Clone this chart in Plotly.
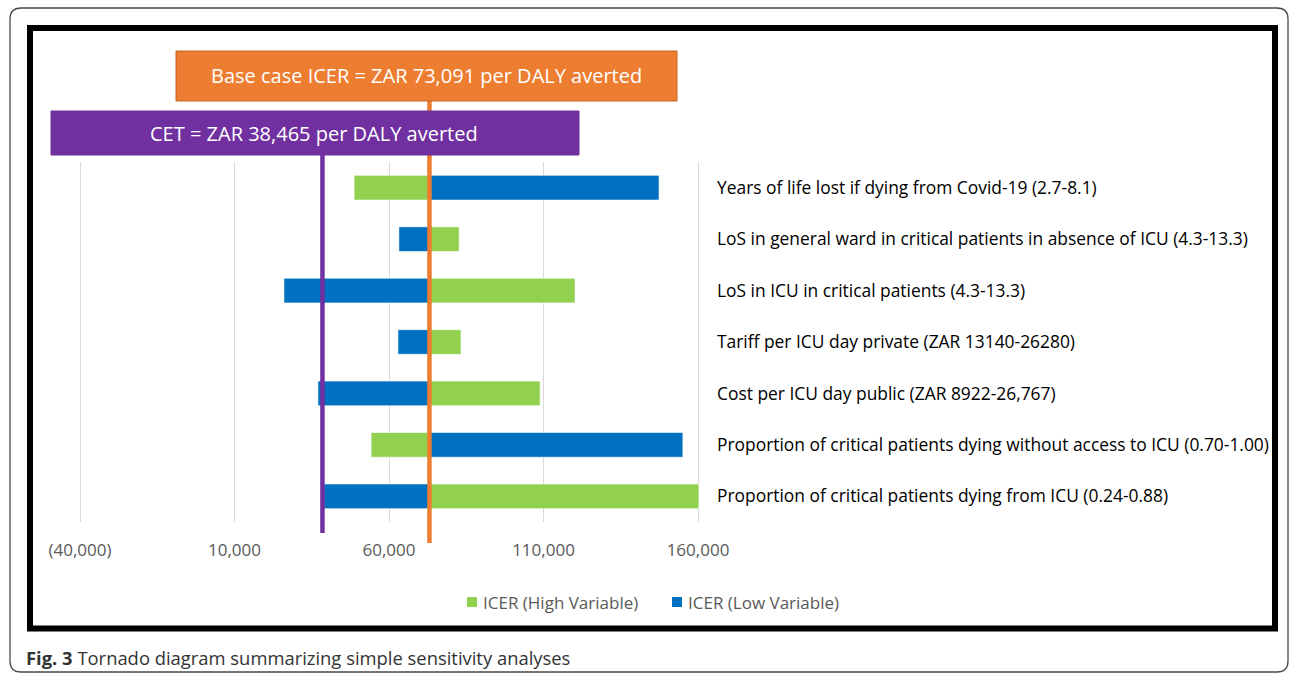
import plotly.graph_objects as go

# ---------------- data ----------------
categories = [
    "Years of life lost if dying from Covid-19 (2.7-8.1)",
    "LoS in general ward in critical patients in absence of ICU (4.3-13.3)",
    "LoS in ICU in critical patients (4.3-13.3)",
    "Tariff per ICU day private (ZAR 13140-26280)",
    "Cost per ICU day public (ZAR 8922-26,767)",
    "Proportion of critical patients dying without access to ICU (0.70-1.00)",
    "Proportion of critical patients dying from ICU (0.24-0.88)",
]
icer_high_variable = [48700, 82700, 120200, 83300, 108900, 54200, 160300]
icer_low_variable = [147400, 63200, 26000, 62900, 37000, 155100, 38900]
base_case_icer = 73091
cet = 38465
tick_values = [-40000, 10000, 60000, 110000, 160000]
tick_labels = ["(40,000)", "10,000", "60,000", "110,000", "160,000"]
series_names = ["ICER (High Variable)", "ICER (Low Variable)"]

# ---------------- geometry helpers ----------------
W, H = 1292, 674
PL, PR, PT, PB = 76, 702, 162, 522
XMIN, XMAX = -41294, 161294


def px(x):
    return (x - PL) / (PR - PL)


def py(y):
    return (PB - y) / (PB - PT)


GREEN = "#92D050"
BLUE = "#0070C0"
ORANGE = "#ED7D31"
PURPLE = "#7030A0"
FONT = "Open Sans"

fig = go.Figure()
for name, vals, col in [(series_names[0], icer_high_variable, GREEN),
                        (series_names[1], icer_low_variable, BLUE)]:
    fig.add_trace(go.Bar(
        name=name, orientation="h", y=categories,
        x=[v - base_case_icer for v in vals], base=base_case_icer,
        marker=dict(color=col, line=dict(color="rgba(255,255,255,0.6)", width=1)),
        width=0.48, showlegend=False,
    ))

shapes = []
# outer rounded border
r = 11
x0, x1, y0, y1 = 10, 1288, 8, 672
path = (f"M {px(x0)},{py(y1 - r)} L {px(x0)},{py(y0 + r)} "
        f"Q {px(x0)},{py(y0)} {px(x0 + r)},{py(y0)} "
        f"L {px(x1 - r)},{py(y0)} Q {px(x1)},{py(y0)} {px(x1)},{py(y0 + r)} "
        f"L {px(x1)},{py(y1 - r)} Q {px(x1)},{py(y1)} {px(x1 - r)},{py(y1)} "
        f"L {px(x0 + r)},{py(y1)} Q {px(x0)},{py(y1)} {px(x0)},{py(y1 - r)}")
shapes.append(dict(type="path", xref="paper", yref="paper", path=path,
                   line=dict(color="#4a4a4a", width=1.3), layer="below"))
# black frame
shapes.append(dict(type="rect", xref="paper", yref="paper",
                   x0=px(30), x1=px(1275), y0=py(28), y1=py(628.5),
                   line=dict(color="black", width=6), layer="above"))
# orange base case line
shapes.append(dict(type="line", xref="x", yref="paper",
                   x0=base_case_icer, x1=base_case_icer, y0=py(100), y1=py(543),
                   line=dict(color=ORANGE, width=4.5), layer="above"))
# CET line
shapes.append(dict(type="line", xref="x", yref="paper",
                   x0=cet, x1=cet, y0=py(155), y1=py(533),
                   line=dict(color=PURPLE, width=4.5), layer="above"))
# orange box
shapes.append(dict(type="rect", xref="paper", yref="paper",
                   x0=px(176), x1=px(677), y0=py(51), y1=py(101),
                   fillcolor=ORANGE, line=dict(color="#C0622A", width=1), layer="above"))
# purple box
shapes.append(dict(type="rect", xref="paper", yref="paper",
                   x0=px(51), x1=px(579), y0=py(111), y1=py(155),
                   fillcolor=PURPLE, line=dict(color=PURPLE, width=1), layer="above"))
# legend squares
for sx, col in [(467, GREEN), (672, BLUE)]:
    shapes.append(dict(type="rect", xref="paper", yref="paper",
                       x0=px(sx), x1=px(sx + 10), y0=py(597), y1=py(607),
                       fillcolor=col, line=dict(width=0), layer="above"))

annotations = [
    dict(xref="paper", yref="paper", x=px(426.5), y=py(76),
         text=f"Base case ICER = ZAR {base_case_icer:,} per DALY averted",
         showarrow=False, font=dict(family=FONT, size=20, color="white"),
         xanchor="center", yanchor="middle"),
    dict(xref="paper", yref="paper", x=px(314), y=py(133),
         text=f"CET = ZAR {cet:,} per DALY averted",
         showarrow=False, font=dict(family=FONT, size=20, color="white"),
         xanchor="center", yanchor="middle"),
    dict(xref="paper", yref="paper", x=px(24), y=py(657),
         text="<b>Fig. 3</b> Tornado diagram summarizing simple sensitivity analyses",
         showarrow=False, font=dict(family=FONT, size=18.4, color="#333333"),
         xanchor="left", yanchor="middle"),
    dict(xref="paper", yref="paper", x=px(481), y=py(602), text=series_names[0],
         showarrow=False, font=dict(family=FONT, size=17, color="#595959"),
         xanchor="left", yanchor="middle"),
    dict(xref="paper", yref="paper", x=px(686), y=py(602), text=series_names[1],
         showarrow=False, font=dict(family=FONT, size=17, color="#595959"),
         xanchor="left", yanchor="middle"),
]

fig.update_layout(
    width=W, height=H,
    margin=dict(l=PL, r=W - PR, t=PT, b=H - PB, pad=0, autoexpand=False),
    paper_bgcolor="white", plot_bgcolor="white",
    barmode="overlay",
    shapes=shapes, annotations=annotations,
    showlegend=False,
    xaxis=dict(range=[XMIN, XMAX], tickvals=tick_values, ticktext=tick_labels,
               showgrid=True, gridcolor="#D9D9D9", gridwidth=1, zeroline=False,
               showline=False, ticks="", ticklabelstandoff=16,
               tickfont=dict(family=FONT, size=17, color="#595959")),
    yaxis=dict(side="right", autorange=False, range=[6.5, -0.5], categoryorder="array",
               categoryarray=categories, showgrid=False, zeroline=False, showline=False,
               ticks="", ticklabelstandoff=14,
               tickfont=dict(family=FONT, size=17.4, color="black")),
)

fig.write_html("out.html", config={"displayModeBar": False},
               post_script="document.body.style.margin='0';")
